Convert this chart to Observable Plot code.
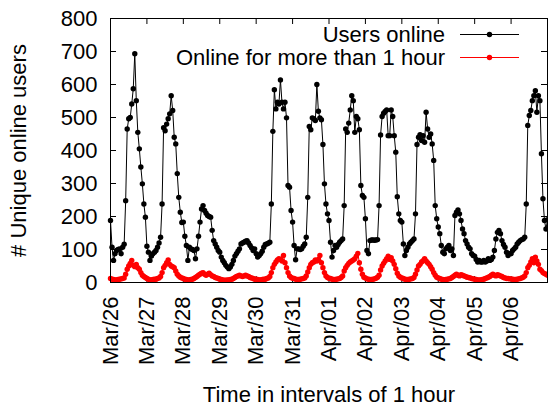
<!DOCTYPE html>
<html>
<head>
<meta charset="utf-8">
<script src="https://cdn.jsdelivr.net/npm/d3@7"></script>
<script src="https://cdn.jsdelivr.net/npm/@observablehq/plot@0.6"></script>
<style>
  html, body { margin: 0; padding: 0; background: #fff; }
</style>
</head>
<body>
<div id="chart"></div>
<script>
// ---- Data (hourly samples starting 2009-03-26 00:00 UTC) ----
const startYear = 2009, startMonth = 2, startDay = 26;

const seriesNames = ["Users online", "Online for more than 1 hour"];
const seriesColors = ["black", "red"];

const usersOnline = [
  188,107,67,87,97,100,102,87,107,116,248,465,496,500,541,587,693,551,455,405,350,299,238,198,
  110,92,67,80,87,92,97,107,120,137,238,469,460,480,496,511,566,521,440,420,330,258,213,182,
  183,140,112,67,107,102,100,97,72,102,140,183,223,233,218,210,203,200,198,158,127,117,107,97,
  92,77,67,60,52,47,42,47,55,67,80,87,95,102,117,120,122,125,127,120,112,105,97,102,
  87,77,82,87,95,107,115,117,119,122,238,458,584,526,546,541,614,546,526,546,499,294,289,218,
  183,112,69,102,102,100,102,110,117,137,258,473,463,499,496,491,600,519,499,493,418,299,238,208,
  188,122,77,97,112,107,115,122,127,132,233,465,455,483,523,566,551,455,503,496,463,294,264,258,
  193,97,87,127,129,129,128,129,130,233,447,503,513,518,523,445,445,523,503,445,395,260,208,188,
  183,117,82,97,107,117,122,127,132,208,418,440,448,430,445,425,516,465,440,450,420,370,233,193,
  168,148,112,92,87,102,107,112,97,102,82,203,213,220,208,188,162,148,127,117,107,102,87,82,
  80,70,62,67,62,62,67,62,65,72,67,70,77,97,132,152,158,148,127,115,107,92,82,87,
  87,97,102,107,117,122,127,130,132,137,238,476,506,521,551,566,581,516,566,551,390,254,188,162,
  190
];

const longOnline = [
  12,10,9,8,8,9,10,11,12,14,25,40,50,58,67,52,48,55,45,40,30,22,18,15,
  12,10,8,8,9,10,10,12,14,18,30,45,52,60,68,55,50,48,45,35,25,20,16,14,
  12,10,9,8,8,9,10,12,15,18,22,25,28,30,25,22,25,28,24,20,18,15,14,12,
  10,9,8,7,7,8,8,9,10,12,15,18,20,22,20,18,20,22,20,18,15,14,12,10,
  10,9,8,8,9,10,10,12,14,18,30,45,55,62,68,72,70,65,82,60,45,30,20,15,
  13,12,10,9,9,10,11,12,14,20,32,45,55,60,62,68,65,70,82,60,45,30,20,15,
  13,12,10,9,9,10,11,12,15,20,35,45,52,58,62,65,68,72,80,88,60,40,25,16,
  14,11,10,9,9,10,11,13,16,22,38,50,58,65,72,80,70,75,65,55,42,28,20,16,
  14,12,10,9,9,10,11,12,15,25,38,50,55,62,66,72,65,60,55,48,40,30,22,16,
  14,12,10,9,8,9,10,11,12,15,18,22,25,22,20,24,22,20,18,16,15,14,12,11,
  10,9,8,8,8,9,10,12,14,16,18,22,25,22,20,24,22,20,18,15,14,12,12,11,
  11,10,9,9,10,11,12,14,16,20,30,45,52,62,72,60,77,65,55,40,36,30,27,25,
  22
];

const dayLabels = ["Mar/26","Mar/27","Mar/28","Mar/29","Mar/30","Mar/31",
                   "Apr/01","Apr/02","Apr/03","Apr/04","Apr/05","Apr/06"];
const yTicks = [0,100,200,300,400,500,600,700,800];

const xTitle = "Time in intervals of 1 hour";
const yTitle = "# Unique online users";

// ---- Build tables ----
const HOUR = 3600 * 1000;
const t0 = Date.UTC(startYear, startMonth, startDay);
const table = usersOnline.map((u, i) => ({
  time: new Date(t0 + i * HOUR),
  users: u,
  long: longOnline[i]
}));
const dayDates = dayLabels.map((_, k) => new Date(Date.UTC(startYear, startMonth, startDay + k)));
const labelOf = d => dayLabels[dayDates.findIndex(x => +x === +d)];

const W = 548, H = 406;
const mL = 110, mR = 1, mT = 18, mB = 124;
const plotW = W - mL - mR, plotH = H - mT - mB;
const tickLen = 6;
const dotR = 2.7;

const chart = Plot.plot({
  width: W, height: H,
  marginLeft: mL, marginRight: mR, marginTop: mT, marginBottom: mB,
  style: {
    background: "white",
    color: "black",
    fontFamily: "'Liberation Sans', Arial, Helvetica, sans-serif",
    fontSize: "22px"
  },
  x: {type: "utc", domain: [table[0].time, table[table.length - 1].time]},
  y: {domain: [0, 800]},
  marks: [
    Plot.axisX({ticks: dayDates, tickSize: 0, tickPadding: 14, tickRotate: -90,
                tickFormat: labelOf, label: null, anchor: "bottom"}),
    Plot.axisY({ticks: yTicks, tickSize: 0, tickPadding: 13, label: null, anchor: "left"}),
    // inward ticks (bottom/top/left/right)
    Plot.tickX(dayDates, {x: d => d, stroke: "black", insetTop: plotH - tickLen}),
    Plot.tickX(dayDates, {x: d => d, stroke: "black", insetBottom: plotH - tickLen}),
    Plot.tickY(yTicks, {y: d => d, stroke: "black", insetRight: plotW - tickLen}),
    Plot.tickY(yTicks, {y: d => d, stroke: "black", insetLeft: plotW - tickLen}),
    // series
    Plot.line(table, {x: "time", y: "users", stroke: seriesColors[0], strokeWidth: 1}),
    Plot.dot(table, {x: "time", y: "users", fill: seriesColors[0], r: dotR}),
    Plot.line(table, {x: "time", y: "long", stroke: seriesColors[1], strokeWidth: 1}),
    Plot.dot(table, {x: "time", y: "long", fill: seriesColors[1], r: dotR}),
    Plot.frame({stroke: "black", strokeWidth: 1}),
    // axis titles
    Plot.text([yTitle], {frameAnchor: "left", dx: -92, rotate: -90, textAnchor: "middle",
                         lineAnchor: "middle", text: d => d}),
    Plot.text([xTitle], {frameAnchor: "bottom", dy: 112, textAnchor: "middle",
                         lineAnchor: "middle", text: d => d})
  ]
});

// ---- Legend (inside plot, top-right) ----
const svg = d3.select(chart);
const leg = svg.append("g").attr("font-size", 22);
const rowY = [34.5, 57.5];
seriesNames.forEach((name, i) => {
  leg.append("text")
    .attr("x", 445).attr("y", rowY[i]).attr("dy", "0.35em")
    .attr("text-anchor", "end").attr("fill", "black")
    .text(name);
  leg.append("line")
    .attr("x1", 460).attr("x2", 519).attr("y1", rowY[i]).attr("y2", rowY[i])
    .attr("stroke", seriesColors[i]).attr("stroke-width", 1);
  leg.append("circle")
    .attr("cx", 489.5).attr("cy", rowY[i]).attr("r", dotR)
    .attr("fill", seriesColors[i]);
});

document.getElementById("chart").appendChild(chart);
</script>
</body>
</html>
